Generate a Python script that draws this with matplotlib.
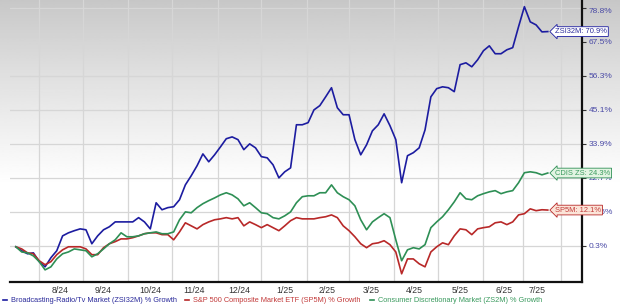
import numpy as np
import pandas as pd
import matplotlib
matplotlib.use('Agg')
import matplotlib.pyplot as plt
from matplotlib.lines import Line2D

plt.rcParams['font.family'] = ['Liberation Sans', 'DejaVu Sans']

# data: % growth, sampled every 4 days from 2024-07-16 to 2025-07-15
dates = pd.date_range('2024-07-16', '2025-07-15', freq='4D')

zsi32m = [0.0, -1.3, -2.3, -2.0, -4.9, -6.6, -3.6, -1.3, 3.6, 4.6,
          5.3, 5.9, 5.6, 1.0, 3.6, 5.6, 6.6, 8.2, 8.2, 8.2,
          8.2, 9.6, 8.2, 5.9, 14.5, 12.2, 12.9, 13.2, 15.5, 20.4,
          23.4, 26.7, 30.6, 28.0, 30.3, 32.9, 35.6, 36.2, 35.3, 32.0,
          33.9, 32.6, 29.7, 29.3, 27.0, 22.7, 24.7, 26.0, 40.2, 40.2,
          40.9, 45.1, 46.5, 49.4, 52.4, 45.8, 43.5, 43.5, 35.3, 30.3,
          33.6, 38.2, 40.2, 43.8, 39.9, 35.3, 21.1, 30.0, 31.0, 32.6,
          38.5, 49.4, 52.1, 52.7, 52.4, 51.1, 60.0, 60.6, 59.3, 61.6,
          64.6, 66.2, 63.6, 63.6, 64.9, 65.6, 72.5, 79.1, 74.1, 73.1,
          70.8, 70.9]

sp5m = [0.0, -0.7, -2.0, -2.3, -4.6, -5.9, -4.9, -2.6, -1.0, 0.0,
        0.0, 0.0, -0.7, -2.6, -2.6, -0.3, 1.0, 1.7, 2.6, 2.6,
        3.0, 3.6, 4.3, 4.6, 4.6, 4.0, 4.0, 2.3, 4.9, 7.9,
        6.9, 5.9, 7.3, 8.2, 8.9, 9.2, 9.6, 9.2, 9.6, 6.9,
        8.2, 7.3, 6.3, 7.3, 6.3, 5.3, 6.9, 8.6, 9.6, 9.2,
        9.2, 9.2, 9.6, 9.9, 10.5, 9.6, 6.9, 5.3, 3.3, 1.0,
        -0.3, 1.0, 1.3, 2.0, 0.7, -1.7, -8.9, -4.0, -4.0, -5.6,
        -6.6, -1.7, 0.0, 1.3, 0.7, 3.6, 5.9, 5.6, 4.0, 5.9,
        6.3, 6.6, 7.9, 8.2, 7.3, 8.2, 10.5, 10.9, 12.5, 11.9,
        12.2, 12.1]

zs2m = [0.0, -1.7, -2.0, -3.0, -4.9, -7.6, -6.6, -4.0, -2.3, -1.7,
        -0.7, -1.0, -1.3, -3.3, -2.3, -0.7, 1.0, 2.3, 4.6, 3.3,
        3.3, 3.6, 4.3, 4.6, 4.9, 4.3, 4.3, 4.9, 8.9, 11.5,
        11.2, 12.9, 14.2, 15.2, 16.1, 17.1, 17.8, 17.1, 15.8, 13.5,
        14.5, 12.9, 11.2, 10.9, 9.6, 9.2, 10.2, 11.5, 14.5, 16.5,
        16.8, 16.8, 17.8, 17.8, 20.4, 17.8, 16.5, 15.5, 13.5, 8.9,
        5.6, 8.2, 9.6, 10.9, 9.6, 2.3, -4.6, -1.0, -0.3, -0.7,
        0.7, 6.3, 8.2, 9.9, 12.2, 14.8, 17.8, 15.8, 15.5, 16.8,
        17.5, 18.1, 18.5, 17.5, 18.1, 18.5, 21.1, 24.4, 24.7, 24.4,
        23.7, 24.3]

names = ['Broadcasting-Radio/Tv Market (ZSI32M) % Growth',
         'S&P 500 Composite Market ETF (SP5M) % Growth',
         'Consumer Discretionary Market (ZS2M) % Growth']
tags = ['ZSI32M', 'SP5M', 'CDIS ZS']

ytick_vals = [0.3, 11.5, 22.7, 33.9, 45.1, 56.3, 67.5, 78.8]
ytick_labels = ['0.3%', '11.5%', '22.7%', '33.9%', '45.1%', '56.3%', '67.5%', '78.8%']

xtick_dates = pd.to_datetime(['2024-08-15', '2024-09-14', '2024-10-16', '2024-11-15',
                              '2024-12-16', '2025-01-16', '2025-02-14', '2025-03-16',
                              '2025-04-15', '2025-05-16', '2025-06-15', '2025-07-08'])
xtick_labels = ['8/24', '9/24', '10/24', '11/24', '12/24', '1/25', '2/25', '3/25',
                '4/25', '5/25', '6/25', '7/25']
grid_dates = pd.to_datetime(['2024-08-01', '2024-08-31', '2024-10-01', '2024-10-31',
                             '2024-12-01', '2024-12-31', '2025-01-31', '2025-03-01',
                             '2025-04-01', '2025-05-01', '2025-06-01', '2025-06-28',
                             '2025-07-24'])

# <codecell>
line_cols = ['#1c1ca0', '#b82828', '#2e8f55']
text_cols = ['#2a2a9a', '#c23a3a', '#3a9a5e']
face_cols = ['#ffffff', '#fbe4d8', '#e2f4e2']

W, H = 620, 308
fig = plt.figure(figsize=(W / 100, H / 100), dpi=100)

# grey-to-white gradient behind everything
bg = fig.add_axes([0, 0, 1, 1])
yy = np.linspace(0, 1, 200)
shade = 0.78 + 0.22 * np.clip(yy / 0.6, 0, 1) ** 0.9
bg.imshow(shade[:, None], cmap='gray', vmin=0, vmax=1, aspect='auto',
          extent=[0, 1, 1, 0])
bg.axis('off')

ax = fig.add_axes([10 / W, 1 - 282 / H, 572 / W, 282 / H])
ax.patch.set_alpha(0)

series = [zsi32m, sp5m, zs2m]
for vals, col in zip(series, line_cols):
    ax.plot(dates, vals, color=col, lw=1.2, zorder=3)

ax.set_xlim(pd.Timestamp('2024-07-12'), pd.Timestamp('2025-08-07 10:00'))
ax.set_ylim(-11.6, 81.3)

ax.yaxis.tick_right()
ax.set_yticks(ytick_vals)
ax.set_yticklabels(ytick_labels)
ax.tick_params(axis='y', length=3, width=0.8, color='#333333', pad=2,
               labelsize=6, labelcolor='#4a4aa6')
ax.get_yticklabels()[-1].set_va('top')

ax.set_xticks(xtick_dates)
ax.set_xticklabels(xtick_labels)
ax.set_xticks(grid_dates, minor=True)
ax.tick_params(axis='x', which='both', length=0, pad=3, labelsize=6.3,
               labelcolor='#333333')

ax.grid(True, axis='y', which='major', color='#d6d6d6', lw=0.9)
ax.grid(True, axis='x', which='minor', color='#d6d6d6', lw=0.9)
ax.grid(False, axis='x', which='major')
ax.set_axisbelow(True)

for s in ['left', 'top']:
    ax.spines[s].set_visible(False)
for s in ['right', 'bottom']:
    ax.spines[s].set_color('#111111')
    ax.spines[s].set_linewidth(1.6)

# end-of-line tags (they sit over the right axis labels, as in the original)
for i in [0, 2, 1]:
    vals = series[i]
    ax.text(dates[-1] + pd.Timedelta(days=5), vals[-1],
            f'{tags[i]}: {vals[-1]:.1f}%', fontsize=5.4, color=text_cols[i],
            ha='left', va='center', zorder=10, clip_on=False,
            bbox=dict(boxstyle='larrow,pad=0.18', fc=face_cols[i],
                      ec=line_cols[i], lw=0.6))

# legend along the bottom
leg_x = [3, 185, 370]
for x0, name, lc, tc in zip(leg_x, names, line_cols, text_cols):
    fig.add_artist(Line2D([x0 / W, (x0 + 4) / W], [1 - 300 / H] * 2, color=lc, lw=1.2,
                          transform=fig.transFigure))
    fig.text((x0 + 8) / W, 1 - 300 / H, name, fontsize=5.35, color=tc,
             ha='left', va='center')

fig.savefig('out.png', dpi=100)
